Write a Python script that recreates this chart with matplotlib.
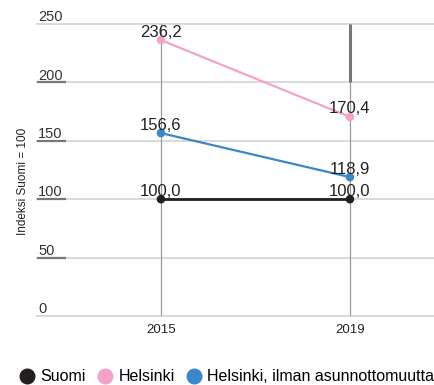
"""Index chart: Helsinki vs. Suomi (Suomi = 100)"""

import matplotlib.pyplot as plt
from matplotlib.lines import Line2D

plt.rcParams['font.family'] = ['Liberation Sans', 'DejaVu Sans']

# Data
years = ['2015', '2019']
suomi = [100.0, 100.0]
helsinki = [236.2, 170.4]
helsinki_ilman = [156.6, 118.9]
y_ticks = [0, 50, 100, 150, 200, 250]

series = [
    ('Suomi', suomi, '#231f20'),
    ('Helsinki', helsinki, '#f4a3c6'),
    ('Helsinki, ilman asunnottomuutta', helsinki_ilman, '#3b87c9'),
]

fig = plt.figure(figsize=(4.35, 3.85), dpi=100)
ax = fig.add_axes([0.085, 0.1792, 0.915, 0.7585])
x = list(range(len(years)))
ax.set_xlim(-0.656, 1.45)
ax.set_ylim(0, 250)

# Horizontal gridlines with a darker stub at the left
for t in y_ticks:
    ax.axhline(t, color='#d9d9d9', lw=1.4, zorder=1, clip_on=False)
    if 0 < t < 250:
        ax.plot([-0.656, -0.50], [t, t], color='#777777', lw=1.6, zorder=2,
                solid_capstyle='butt', clip_on=False)
    ax.annotate(str(t), (-0.650, t), xytext=(0, 2), textcoords='offset points',
                fontsize=10.5, color='#333333', ha='left', va='baseline')

# Vertical lines at the years
for xi in x:
    ax.plot([xi, xi], [0, 250], color='#9a9a9a', lw=0.9, zorder=1)
ax.plot([1, 1], [200, 250], color='#777777', lw=2.2, zorder=2, solid_capstyle='butt')

# Series lines, markers and value labels
for name, vals, col in series:
    lw = 2.0 if name == 'Suomi' else 1.6
    ax.plot(x, vals, color=col, lw=lw, zorder=3)
    ax.scatter(x, vals, s=38, color=col, zorder=4, edgecolors='none')
    for xi, v in zip(x, vals):
        ax.annotate(f'{v:.1f}'.replace('.', ','), (xi, v), xytext=(0, 2.5),
                    textcoords='offset points', fontsize=12, color='#222222',
                    ha='center', va='baseline', zorder=5)

ax.set_xticks(x)
ax.set_xticklabels(years, fontsize=9.5, color='#222222')
ax.tick_params(axis='x', length=0, pad=6)
ax.set_yticks([])
for s in ax.spines.values():
    s.set_visible(False)

fig.text(0.052, 0.53, 'Indeksi Suomi = 100', rotation=90, fontsize=8.5,
         color='#222222', ha='center', va='center')

# Legend along the bottom
handles = [Line2D([], [], marker='o', ls='none', color=c, markersize=10.5)
           for _, _, c in series]
fig.legend(handles, [n for n, _, _ in series], loc='lower left',
           bbox_to_anchor=(0.01, -0.035), ncol=3, frameon=False, fontsize=11.5,
           handletextpad=0.35, columnspacing=0.7, handlelength=1.0)

fig.savefig('out.png', dpi=100)
